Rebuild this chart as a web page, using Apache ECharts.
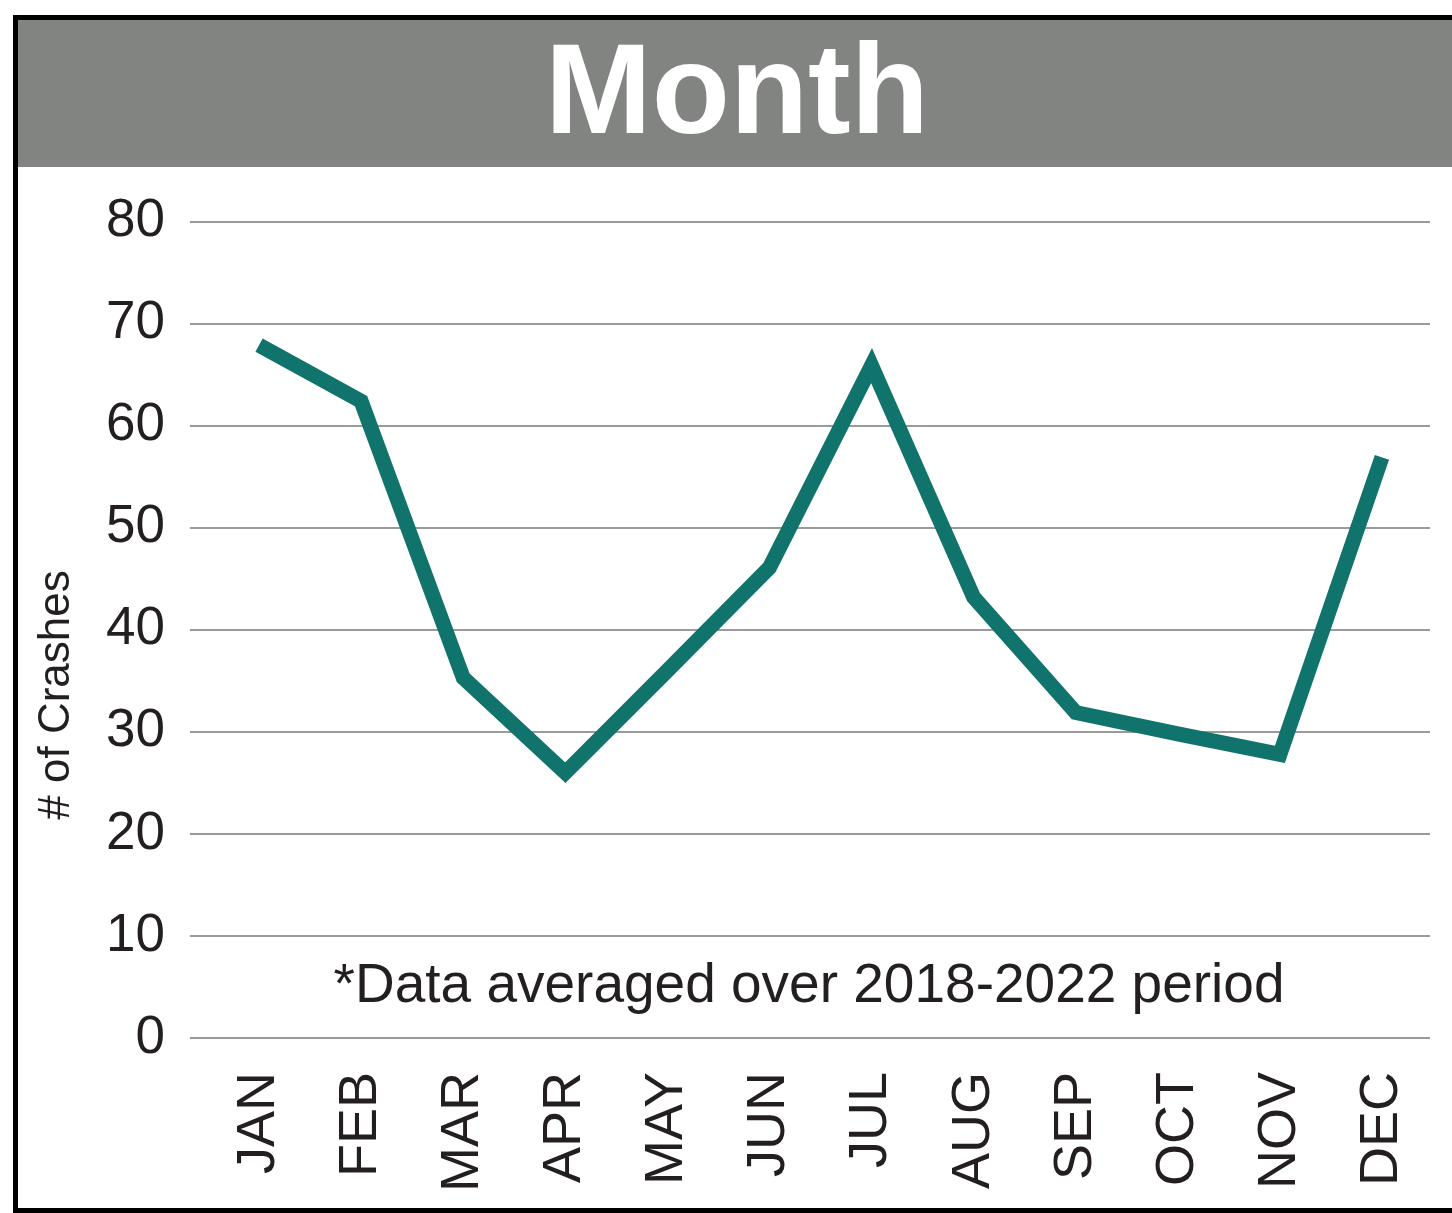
<!DOCTYPE html>
<html>
<head>
<meta charset="utf-8">
<title>Month</title>
<script src="https://cdn.jsdelivr.net/npm/echarts@6/dist/echarts.min.js"></script>
<style>
    html, body { margin: 0; padding: 0; background: #fff; }
    #chartDiv { width: 1452px; height: 1213px; }
</style>
</head>
<body>
<div id="chartDiv"></div>
<script>
// 数据
var months = ["JAN", "FEB", "MAR", "APR", "MAY", "JUN", "JUL", "AUG", "SEP", "OCT", "NOV", "DEC"];
var crashes = [67.9, 62.4, 35.3, 26.0, 36.0, 46.1, 65.9, 43.2, 31.9, 29.8, 27.8, 56.9];
var yTicks = [0, 10, 20, 30, 40, 50, 60, 70, 80];
var titleText = "Month";
var yName = "# of Crashes";
var noteText = "*Data averaged over 2018-2022 period";

var chartDiv = echarts.init(document.getElementById('chartDiv'));
var fontName = "'Liberation Sans', Arial, sans-serif";

var option = {
    backgroundColor: '#ffffff',
    animation: false,
    grid: [
        // 折线所在的网格
        {left: 208, right: 19, top: 221.7, bottom: 175},
        // 网格线和y轴刻度
        {left: 190, right: 22, top: 221.7, bottom: 175}
    ],
    xAxis: [
        {
            type: 'category',
            gridIndex: 0,
            data: months,
            boundaryGap: true,
            axisLine: {show: false},
            axisTick: {show: false},
            axisLabel: {
                rotate: 90,
                margin: 34,
                fontSize: 54,
                fontFamily: fontName,
                color: '#231f20',
                padding: [0, 0, 6, 0]
            }
        },
        {
            type: 'category',
            gridIndex: 1,
            data: months,
            show: false
        }
    ],
    yAxis: [
        {
            type: 'value',
            gridIndex: 0,
            min: yTicks[0],
            max: yTicks[yTicks.length - 1],
            interval: 10,
            show: false
        },
        {
            type: 'value',
            gridIndex: 1,
            min: yTicks[0],
            max: yTicks[yTicks.length - 1],
            interval: 10,
            axisLine: {show: false},
            axisTick: {show: false},
            axisLabel: {
                margin: 25,
                fontSize: 53,
                fontFamily: fontName,
                color: '#231f20'
            },
            splitLine: {
                lineStyle: {color: '#9a9a9a', width: 2}
            }
        }
    ],
    graphic: [
        {
            type: 'rect',
            z: -1,
            shape: {x: 18, y: 20, width: 1440, height: 147},
            style: {fill: '#828481'}
        },
        {
            type: 'rect',
            z: 100,
            shape: {x: 15.5, y: 17.5, width: 1450, height: 1193},
            style: {fill: 'none', stroke: '#000000', lineWidth: 5}
        },
        {
            type: 'text',
            x: 737,
            y: 98,
            style: {
                text: titleText,
                fill: '#ffffff',
                fontSize: 128,
                fontWeight: 'bold',
                fontFamily: fontName,
                textAlign: 'center',
                textVerticalAlign: 'middle'
            }
        },
        {
            type: 'text',
            x: 57,
            y: 695,
            rotation: Math.PI / 2,
            style: {
                text: yName,
                fill: '#231f20',
                fontSize: 44,
                fontFamily: fontName,
                textAlign: 'center',
                textVerticalAlign: 'middle'
            }
        },
        {
            type: 'text',
            x: 809,
            y: 987,
            style: {
                text: noteText,
                fill: '#231f20',
                fontSize: 55,
                fontFamily: fontName,
                textAlign: 'center',
                textVerticalAlign: 'middle'
            }
        }
    ],
    series: [
        {
            type: 'line',
            name: 'Crashes',
            xAxisIndex: 0,
            yAxisIndex: 0,
            data: crashes,
            symbol: 'none',
            lineStyle: {
                color: '#10736c',
                width: 15,
                join: 'miter',
                miterLimit: 10,
                cap: 'butt'
            }
        }
    ]
};
chartDiv.setOption(option);
</script>
</body>
</html>
